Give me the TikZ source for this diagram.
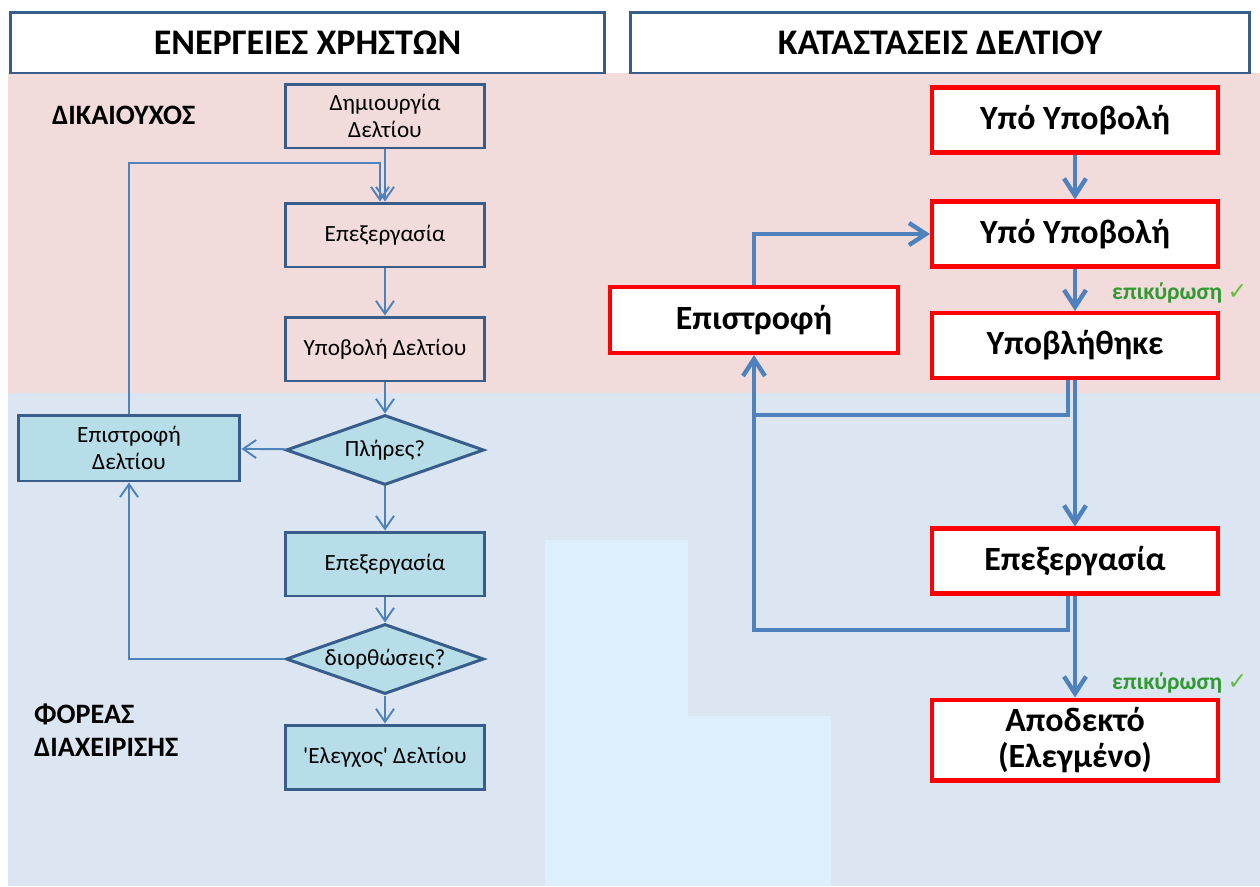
\documentclass[tikz,border=0pt]{standalone}
\usepackage{fontspec}
\setmainfont{Carlito}
\newfontfamily\checkfont{DejaVu Sans}
\newfontfamily\straightfont{Carlito}[Ligatures=TeXOff]
\usepackage{xcolor}
\usetikzlibrary{shapes.geometric, arrows.meta, positioning}

\definecolor{pinkbg}{HTML}{F2DCDB}
\definecolor{bluebg}{HTML}{DCE6F2}
\definecolor{lightbg}{HTML}{DDEEFC}
\definecolor{cellfill}{HTML}{B7DDE8}
\definecolor{edgeblue}{HTML}{385D8A}
\definecolor{flowblue}{HTML}{4F81BD}
\definecolor{okgreen}{HTML}{339933}
\definecolor{tickgreen}{HTML}{66BB44}

\begin{document}
\begin{tikzpicture}[
  x=0.02cm, y=-0.02cm,
  head/.style={
    rectangle, draw=edgeblue, fill=white, line width=1.7pt,
    minimum height=1.22cm, font=\bfseries\fontsize{20.5}{24}\selectfont
  },
  userbox/.style={
    rectangle, draw=edgeblue, line width=1.7pt,
    minimum width=4cm, minimum height=1.28cm,
    align=center, font=\fontsize{13.2}{15.5}\selectfont
  },
  userfill/.style={userbox, fill=cellfill},
  decision/.style={
    diamond, draw=edgeblue, fill=cellfill, line width=1.7pt,
    aspect=2.8, inner sep=0pt,
    minimum width=3.96cm, minimum height=1.4cm,
    font=\fontsize{13.2}{15.5}\selectfont
  },
  statebox/.style={
    rectangle, draw=red, fill=white, line width=2.3pt,
    minimum width=5.72cm, minimum height=1.3cm,
    align=center, font=\bfseries\fontsize{19.3}{20}\selectfont
  },
  lane/.style={font=\bfseries\fontsize{16}{18.8}\selectfont, align=left},
  okay/.style={font=\bfseries\fontsize{13.4}{15}\selectfont, text=okgreen},
  larrow/.style={-{Straight Barb[length=2.6mm, width=3.6mm]}, flowblue, line width=1.1pt},
  rline/.style={flowblue, line width=2.5pt},
  rarrow/.style={rline, -{Straight Barb[length=3.4mm, width=4.4mm]}}
]
\useasboundingbox (0,0) rectangle (1260,886);

% ---- Backgrounds ----
\fill[pinkbg]  (8,73) rectangle (1260,393);
\fill[bluebg]  (8,393) rectangle (1260,886);
\fill[lightbg] (545,540) rectangle (688,886);
\fill[lightbg] (688,716) rectangle (831,886);

% ---- Headers ----
\node[head, minimum width=11.9cm] (hleft)  at (307.5,42.5) {ΕΝΕΡΓΕΙΕΣ ΧΡΗΣΤΩΝ};
\node[head, minimum width=12.4cm] (hright) at (940,42.5)   {ΚΑΤΑΣΤΑΣΕΙΣ ΔΕΛΤΙΟΥ};

% ---- Lanes ----
\node[lane, anchor=west] (benef)  at (46,115) {ΔΙΚΑΙΟΥΧΟΣ};
\node[lane, anchor=west] (agency) at (28,730) {ΦΟΡΕΑΣ\\ΔΙΑΧΕΙΡΙΣΗΣ};

% ---- User actions ----
\node[userbox]  (create) at (385,116) {Δημιουργία\\Δελτίου};
\node[userbox]  (edit1)  at (385,235) {Επεξεργασία};
\node[userbox]  (submit) at (385,349) {Υποβολή Δελτίου};
\node[decision] (full)   at (385,450) {Πλήρες?};
\node[userfill, minimum width=4.44cm, minimum height=1.32cm]
                (ret)    at (129,448) {Επιστροφή\\Δελτίου};
\node[userfill] (edit2)  at (385,564) {Επεξεργασία};
\node[decision] (fix)    at (385,659) {διορθώσεις?};
\node[userfill] (check)  at (385,757) {{\straightfont 'Ελεγχος'} Δελτίου};

\coordinate (fb) at (380,163);

\draw[larrow] (create) -- (edit1);
\draw[larrow] (edit1)  -- (submit);
\draw[larrow] (submit) -- (full);
\draw[larrow] (full)   -- (ret);
\draw[larrow] (full)   -- (edit2);
\draw[larrow] (edit2)  -- (fix);
\draw[larrow] (fix)    -- (check);
\draw[larrow] (ret.north) |- (fb) -- (fb |- edit1.north);
\draw[larrow] (fix.west) -| (ret.south);

% ---- Report states ----
\node[statebox] (s1)    at (1075,120)   {Υπό Υποβολή};
\node[statebox] (s2)    at (1075,234)   {Υπό Υποβολή};
\node[statebox] (s3)    at (1075,345.5) {Υποβλήθηκε};
\node[statebox, minimum width=5.76cm, minimum height=1.32cm]
                (sret)  at (754,320)    {Επιστροφή};
\node[statebox] (sproc) at (1075,561)   {Επεξεργασία};
\node[statebox, minimum height=1.62cm]
                (sok)   at (1075,740)   {Αποδεκτό\\(Ελεγμένο)};

\node[okay, anchor=west] (ok1) at (1106,293) {επικύρωση {\checkfont\color{tickgreen}\mdseries ✓}};
\node[okay, anchor=west] (ok2) at (1106,683) {επικύρωση {\checkfont\color{tickgreen}\mdseries ✓}};

\coordinate (j1) at (754,415);
\coordinate (j2) at (754,630);

\draw[rarrow] (s1) -- (s2);
\draw[rarrow] (s2) -- (s3);
\draw[rarrow] (s3) -- (sproc);
\draw[rarrow] (sproc) -- (sok);
\draw[rarrow] (sret.north) |- (s2.west);
\draw[rline]  ([xshift=-0.14cm]s3.south) |- (j1);
\draw[rarrow] ([xshift=-0.14cm]sproc.south) |- (j2) -- (sret.south);

\end{tikzpicture}
\end{document}
